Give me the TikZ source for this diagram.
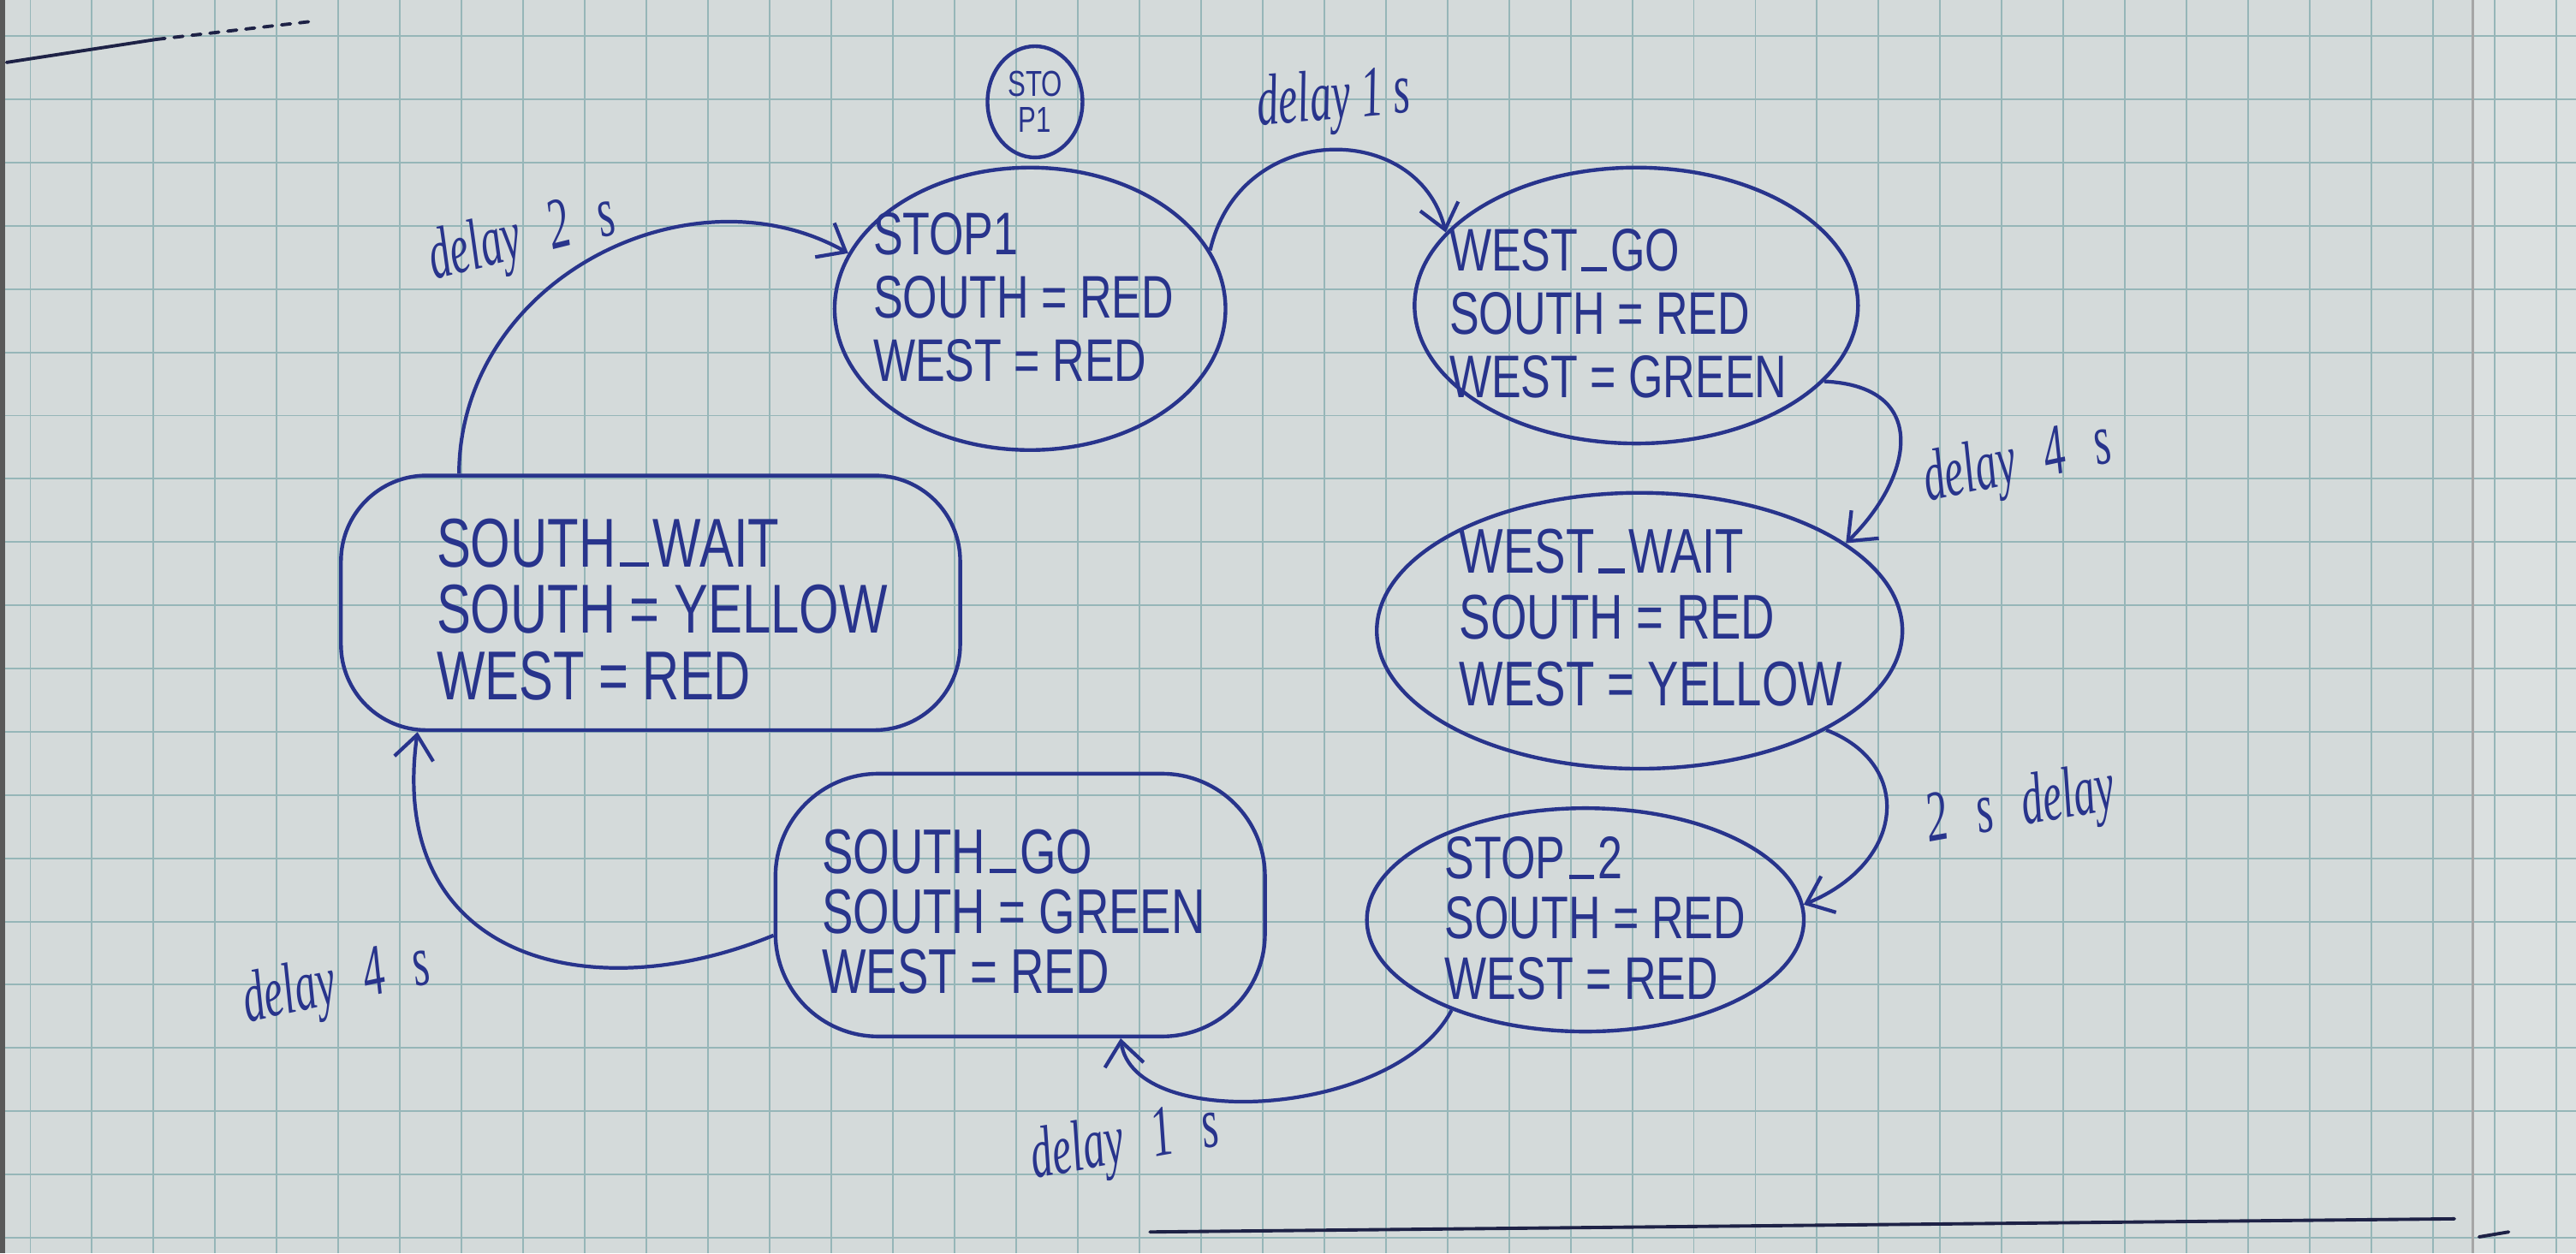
\documentclass[tikz,border=0pt]{standalone}
\usepackage{fontspec}
\usetikzlibrary{shapes.geometric,arrows.meta}
\newfontfamily\hand[FakeStretch=0.74]{Liberation Sans}
\newfontfamily\cursive[FakeStretch=0.6]{Liberation Serif}
\newcommand{\usc}{\kern0.06em\rule[0pt]{0.42em}{0.07em}\kern0.06em}
\newcommand{\gp}{\hspace{0.25em}}
\definecolor{ink}{RGB}{40,52,140}
\definecolor{paper}{RGB}{212,218,218}
\definecolor{gridc}{RGB}{150,182,184}
\definecolor{pen}{RGB}{30,34,70}
\begin{document}
\begin{tikzpicture}[x=0.01919cm, y=-0.01919cm,
  state/.style={draw=ink, line width=1.25pt, ellipse, inner sep=0pt},
  blob/.style={draw=ink, line width=1.25pt, rectangle, inner sep=0pt},
  txt/.style={text=ink, align=left, inner sep=0pt},
  lbl/.style={text=ink, inner sep=0pt, font=\cursive\itshape\fontsize{24pt}{26pt}\selectfont},
  edgeline/.style={draw=ink, line width=1.2pt, -{Straight Barb[length=8pt,width=13pt]}},
  gridline/.style={draw=gridc, line width=0.55pt},
  stray/.style={draw=pen, line width=1.1pt, line cap=round}
]
% paper and grid
\fill[paper] (0,0) rectangle (1568,763);
\useasboundingbox (0,0) rectangle (1568,763);
\fill[paper!85!white] (1505,0) rectangle (1568,763);
\foreach \i in {0,...,41} \draw[gridline] ({18.5+37.5*\i},0) -- ({18.5+37.5*\i},763);
\foreach \j in {0,...,19} \draw[gridline] (0,{22+38.5*\j}) -- (1568,{22+38.5*\j});
\draw[gray!70, line width=0.8pt] (1505,0) -- (1505,763);
\fill[gray!70!black] (0,0) rectangle (3,763);
% stray pen strokes of the page
\draw[stray] (4,38) -- (95,24);
\draw[stray, dashed] (95,24) -- (190,13);
\draw[stray] (700,750) -- (1494,742);
\draw[stray] (1509,753) -- (1527,750);

% states
\node[state, minimum width=1.11cm, minimum height=1.30cm] (start) at (630,62) {};
\node[txt, font=\hand\fontsize{12pt}{12pt}\selectfont, align=center] (startt) at (630,62) {STO\\P1};

\node[state, minimum width=4.567cm, minimum height=3.301cm] (s1) at (627,188) {};
\node[txt, font=\hand\fontsize{20pt}{21pt}\selectfont] (s1t) at (623,181) {STOP1\\SOUTH = RED\\WEST = RED};

\node[state, minimum width=5.181cm, minimum height=3.224cm] (wg) at (996,186) {};
\node[txt, font=\hand\fontsize{20pt}{21pt}\selectfont] (wgt) at (985,191) {WEST\usc GO\\SOUTH = RED\\WEST = GREEN};

\node[state, minimum width=6.141cm, minimum height=3.224cm] (ww) at (998,384) {};
\node[txt, font=\hand\fontsize{21pt}{22pt}\selectfont] (wwt) at (1005,376) {WEST\usc WAIT\\SOUTH = RED\\WEST = YELLOW};

\node[state, minimum width=5.105cm, minimum height=2.610cm] (s2) at (965,560) {};
\node[txt, font=\hand\fontsize{20pt}{20pt}\selectfont] (s2t) at (971,559) {STOP\usc 2\\SOUTH = RED\\WEST = RED};

\node[blob, rounded corners=1.2cm, minimum width=5.719cm, minimum height=3.070cm] (sg) at (621,551) {};
\node[txt, font=\hand\fontsize{21pt}{20pt}\selectfont] (sgt) at (617,555) {SOUTH\usc GO\\SOUTH = GREEN\\WEST = RED};

\node[blob, rounded corners=1.0cm, minimum width=7.235cm, minimum height=2.975cm] (sw) at (396,367) {};
\node[txt, font=\hand\fontsize{23pt}{22pt}\selectfont] (swt) at (403,371) {SOUTH\usc WAIT\\SOUTH = YELLOW\\WEST = RED};

% transitions
\draw[edgeline] (s1.18) .. controls (755,73) and (863,73) .. (wg.159);
\draw[edgeline] (wg.-22) .. controls (1175,235) and (1165,290) .. (ww.23);
\draw[edgeline] (ww.-28) .. controls (1165,465) and (1160,525) .. (s2.4);
\draw[edgeline] (s2.-146) .. controls (850,680) and (690,690) .. (sg.-53);
\draw[edgeline] (sg.-173) .. controls (360,615) and (235,585) .. (sw.-151);
\draw[edgeline] (sw.146) .. controls (280,170) and (420,100) .. (s1.163);

% labels
\node[lbl, rotate=5] (l1) at (812,62) {delay 1 s};
\node[lbl, rotate=12] (l2) at (1228,283) {delay\gp\ 4\gp\ s};
\node[lbl, rotate=10] (l3) at (1230,492) {2\gp\ s\gp\ delay};
\node[lbl, rotate=10] (l4) at (685,697) {delay\gp\ 1\gp\ s};
\node[lbl, rotate=12] (l5) at (205,600) {delay\gp\ 4\gp\ s};
\node[lbl, rotate=14] (l6) at (318,146) {delay\gp\ 2\gp\ s};
\end{tikzpicture}
\end{document}
